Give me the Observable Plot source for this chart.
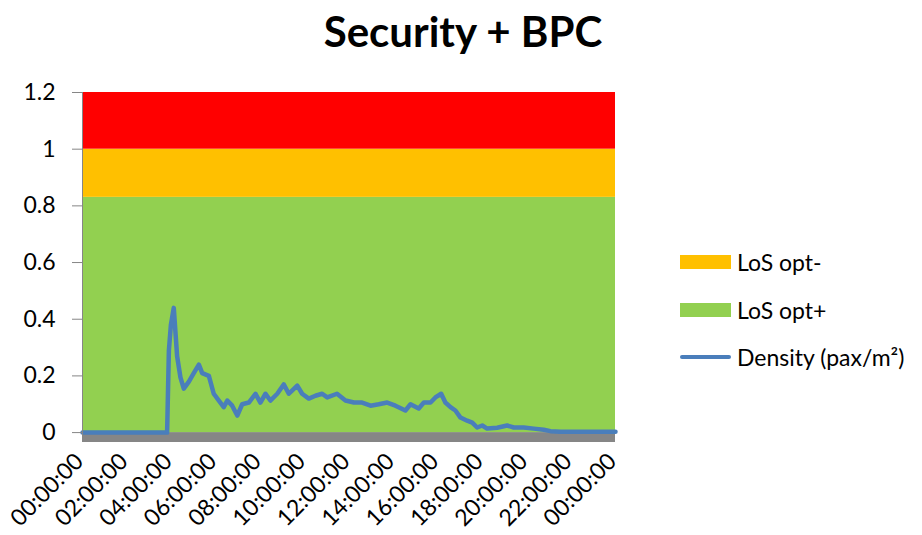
<!DOCTYPE html>
<html>
<head>
<meta charset="utf-8">
<script src="https://cdn.jsdelivr.net/npm/d3@7"></script>
<script src="https://cdn.jsdelivr.net/npm/@observablehq/plot@0.6"></script>
<style>
  html, body { margin: 0; padding: 0; background: #fff; }
  #wrap { position: relative; width: 922px; height: 535px; font-family: Lato, "Open Sans", sans-serif; color: #000; }
  #title { position: absolute; left: 0; width: 926px; top: 4px; text-align: center; font-weight: bold; font-size: 42px; line-height: 54px; }
  #chart { position: absolute; left: 0; top: 70px; }
  .leg { position: absolute; left: 680px; font-size: 23px; color: #000; display: flex; align-items: center; white-space: nowrap; }
  .sw { width: 51px; height: 14px; margin-right: 6px; }
  .ln { width: 51px; height: 4px; margin-right: 6px; border-radius: 2px; }
</style>
</head>
<body>
<div id="wrap">
  <div id="title">Security + BPC</div>
  <div id="chart"></div>
  <div id="legend"></div>
</div>
<script>
// Time of day in hours, density (pax/m²)
const hours = [0, 3.81, 3.89, 3.98, 4.11, 4.26, 4.41, 4.56, 4.79, 5.01, 5.24, 5.39, 5.69, 5.91, 6.14, 6.36, 6.52, 6.74, 6.97, 7.19, 7.49, 7.79, 8.01, 8.24, 8.46, 8.77, 9.06, 9.29, 9.67, 9.89, 10.19, 10.49, 10.79, 11.02, 11.46, 11.84, 12.22, 12.59, 12.97, 13.34, 13.72, 14.09, 14.54, 14.77, 15.14, 15.37, 15.67, 15.89, 16.15, 16.34, 16.57, 16.79, 17.02, 17.32, 17.55, 17.77, 18.0, 18.22, 18.67, 19.12, 19.42, 19.87, 20.32, 20.77, 21.07, 21.52, 24];
const density = [0, 0, 0.29, 0.38, 0.44, 0.27, 0.195, 0.155, 0.18, 0.21, 0.24, 0.21, 0.2, 0.137, 0.113, 0.09, 0.113, 0.095, 0.06, 0.1, 0.106, 0.137, 0.106, 0.137, 0.113, 0.137, 0.17, 0.137, 0.166, 0.137, 0.12, 0.13, 0.137, 0.124, 0.137, 0.113, 0.106, 0.106, 0.095, 0.1, 0.106, 0.095, 0.078, 0.1, 0.085, 0.106, 0.106, 0.124, 0.137, 0.106, 0.09, 0.078, 0.053, 0.042, 0.035, 0.018, 0.025, 0.014, 0.017, 0.025, 0.018, 0.018, 0.014, 0.01, 0.005, 0.003, 0.003];

// Level-of-service bands
const bandNames = ["Base", "LoS opt+", "LoS opt-", "LoS over"];
const bandLow = [-0.035, 0, 0.83, 1.0];
const bandHigh = [0, 0.83, 1.0, 1.2];
const bandColors = ["#868686", "#92D050", "#FFC000", "#FF0000"];

// Axis ticks
const xTicks = [0, 2, 4, 6, 8, 10, 12, 14, 16, 18, 20, 22, 24];
const xTickLabels = ["00:00:00", "02:00:00", "04:00:00", "06:00:00", "08:00:00", "10:00:00", "12:00:00", "14:00:00", "16:00:00", "18:00:00", "20:00:00", "22:00:00", "00:00:00"];
const yTicks = [0, 0.2, 0.4, 0.6, 0.8, 1, 1.2];
const yTickLabels = ["0", "0.2", "0.4", "0.6", "0.8", "1", "1.2"];

// Legend entries
const legendNames = ["LoS opt-", "LoS opt+", "Density (pax/m²)"];
const legendColors = ["#FFC000", "#92D050", "#4A7EBB"];
const legendKinds = ["swatch", "swatch", "line"];

const series = hours.map((h, i) => ({ h, v: density[i] }));
const bands = bandNames.map((n, i) => ({ name: n, lo: bandLow[i], hi: bandHigh[i], color: bandColors[i] }));

const chart = Plot.plot({
  width: 922,
  height: 465,
  marginLeft: 82,
  marginRight: 307,
  marginTop: 22,
  marginBottom: 93,
  style: { fontFamily: "Lato, 'Open Sans', sans-serif", fontSize: "23px", color: "#000", background: "transparent" },
  x: { domain: [0, 24] },
  y: { domain: [-0.035, 1.2] },
  color: { type: "identity" },
  marks: [
    Plot.rectY(bands, { x1: () => 0, x2: () => 24, y1: "lo", y2: "hi", fill: "color" }),
    Plot.lineY(series, { x: "h", y: "v", stroke: "#4A7EBB", strokeWidth: 4.5, strokeLinejoin: "round" }),
    Plot.ruleX([0], { y1: -0.035, y2: 1.2, stroke: "#868686", strokeWidth: 1 }),
    Plot.axisY({ ticks: yTicks, tickFormat: (d, i) => yTickLabels[i], tickSize: 10, tickPadding: 17, stroke: "#868686", fill: "#000", label: null, fontSize: 23 }),
    Plot.axisX({ ticks: xTicks, tickFormat: (d, i) => xTickLabels[i], tickRotate: -45, tickSize: 0, tickPadding: 15, dx: -3, fill: "#000", label: null, fontSize: 23 })
  ]
});
document.getElementById("chart").appendChild(chart);

const legend = document.getElementById("legend");
const legendTops = [262, 310, 357];
legendNames.forEach((n, i) => {
  const row = document.createElement("div");
  row.className = "leg";
  row.style.top = (legendTops[i] - 15) + "px";
  row.style.height = "30px";
  const mark = document.createElement("div");
  mark.className = legendKinds[i] === "line" ? "ln" : "sw";
  mark.style.background = legendColors[i];
  const t = document.createElement("span");
  t.textContent = n;
  row.appendChild(mark);
  row.appendChild(t);
  legend.appendChild(row);
});
</script>
</body>
</html>
